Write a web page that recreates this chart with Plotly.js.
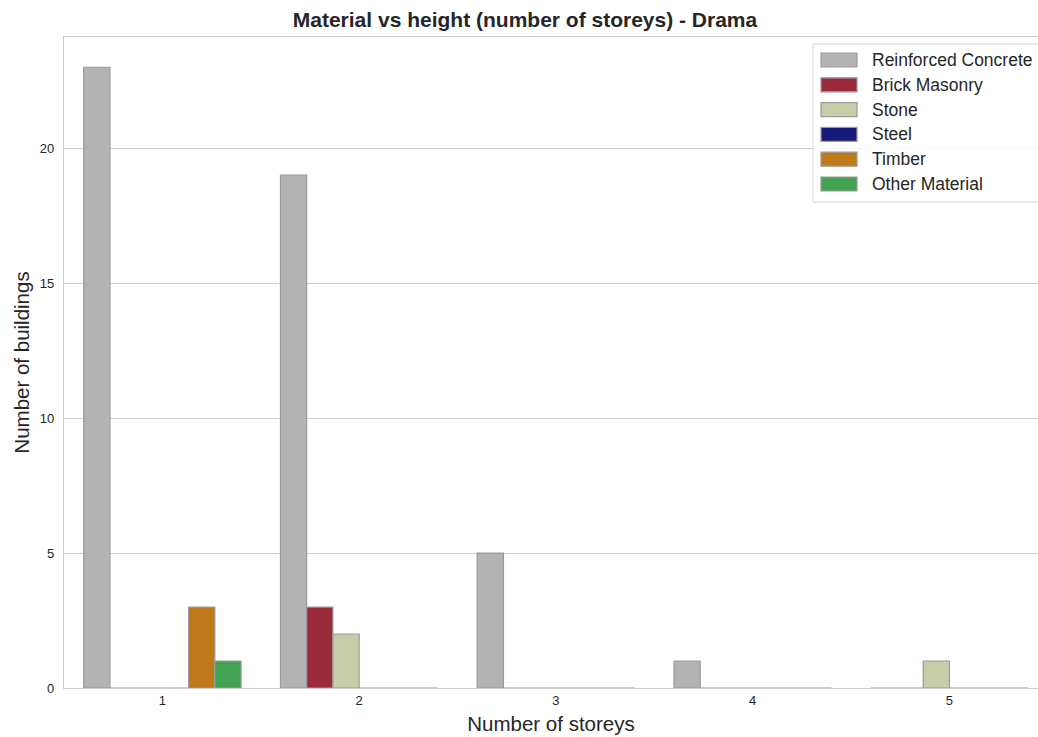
<!DOCTYPE html>
<html>
<head>
<meta charset="utf-8">
<script src="https://cdn.plot.ly/plotly-3.0.1.min.js"></script>
<style>html,body{margin:0;padding:0;background:#fff;}#chart{width:1038px;height:737px;}</style>
</head>
<body>
<div id="chart"></div>
<script>
const categories = ["1", "2", "3", "4", "5"];
const materials = ["Reinforced Concrete", "Brick Masonry", "Stone", "Steel", "Timber", "Other Material"];
const reinforcedConcrete = [23, 19, 5, 1, 0];
const brickMasonry = [0, 3, 0, 0, 0];
const stone = [0, 2, 0, 0, 1];
const steel = [0, 0, 0, 0, 0];
const timber = [3, 0, 0, 0, 0];
const otherMaterial = [1, 0, 0, 0, 0];
const colors = ["#b3b3b3", "#9a2b3a", "#c8cda9", "#15197a", "#c07a1c", "#42a450"];
const edgeColor = "#9a9a9a";

const seriesValues = [reinforcedConcrete, brickMasonry, stone, steel, timber, otherMaterial];
const traces = materials.map((name, i) => ({
  type: "bar",
  name: name,
  x: categories,
  y: seriesValues[i],
  marker: {color: colors[i], line: {color: edgeColor, width: 1.2}},
  showlegend: false
}));

// Pixel geometry of the plot area (for the custom legend box in paper coords)
const W = 1038, H = 737, ML = 64, MR = 0, MT = 37, MB = 49;
const pw = W - ML - MR, ph = H - MT - MB;
const px = v => (v - ML) / pw;
const py = v => (H - MB - v) / ph;

const shapes = [];
const annotations = [];
// legend frame
shapes.push({type: "rect", xref: "paper", yref: "paper", x0: px(813), x1: px(1046), y0: py(202), y1: py(44),
  line: {color: "#d6d6d6", width: 1}, fillcolor: "rgba(255,255,255,0.85)", layer: "above"});
const rowY = [60, 84.8, 109.6, 134.4, 159.2, 184];
materials.forEach((name, i) => {
  shapes.push({type: "rect", xref: "paper", yref: "paper", x0: px(821), x1: px(857), y0: py(rowY[i] + 7), y1: py(rowY[i] - 7),
    line: {color: edgeColor, width: 1.2}, fillcolor: colors[i], layer: "above"});
  annotations.push({xref: "paper", yref: "paper", x: px(870), y: py(rowY[i]), xanchor: "left", yanchor: "middle",
    text: name, showarrow: false, font: {size: 17.5, color: "#262626"}});
});

const layout = {
  width: W, height: H,
  margin: {l: ML, r: MR, t: MT, b: MB},
  paper_bgcolor: "#fff", plot_bgcolor: "#fff",
  font: {family: "Liberation Sans, Arial, sans-serif", color: "#262626"},
  title: {text: "<b>Material vs height (number of storeys) - Drama</b>", font: {size: 21, color: "#262626"},
    xref: "paper", x: (525 - ML) / pw, xanchor: "center", y: 1 - 20 / H, yanchor: "middle"},
  barmode: "group",
  bargap: 0.2,
  bargroupgap: 0,
  xaxis: {
    type: "category",
    range: [-0.5, 4.45],
    showgrid: false,
    showline: true, linecolor: "#cccccc", linewidth: 1.2, mirror: true,
    ticks: "", tickfont: {size: 13, color: "#262626"},
    title: {text: "Number of storeys", font: {size: 20.5, color: "#262626"}, standoff: 9},
    zeroline: false
  },
  yaxis: {
    range: [0, 24.12],
    tickvals: [0, 5, 10, 15, 20],
    showgrid: true, gridcolor: "#d0d0d0", gridwidth: 1,
    showline: true, linecolor: "#cccccc", linewidth: 1.2, mirror: true,
    ticks: "", tickfont: {size: 13, color: "#262626"},
    ticklabelstandoff: 6,
    title: {text: "Number of buildings", font: {size: 20.5, color: "#262626"}, standoff: 4},
    zeroline: false
  },
  shapes: shapes,
  annotations: annotations,
  showlegend: false
};

Plotly.newPlot("chart", traces, layout, {displayModeBar: false, staticPlot: true});
</script>
</body>
</html>
